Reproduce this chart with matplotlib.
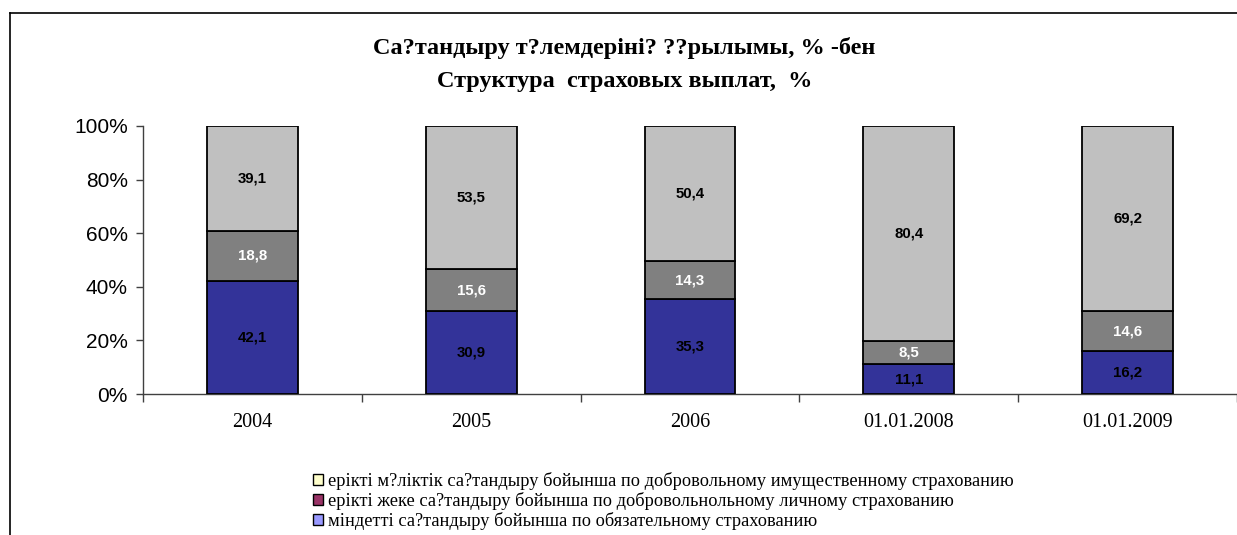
import matplotlib.pyplot as plt
from matplotlib.patches import Patch
from matplotlib.lines import Line2D

# data (percent shares)
categories = ['2004', '2005', '2006', '01.01.2008', '01.01.2009']
obligatory = [42.1, 30.9, 35.3, 11.1, 16.2]
personal = [18.8, 15.6, 14.3, 8.5, 14.6]
property_ins = [39.1, 53.5, 50.4, 80.4, 69.2]

title_lines = ['Ca?тандыру т?лемдеріні? ??рылымы, % -бен',
               'Структура  страховых выплат,  %']
legend_labels = ['ерікті м?ліктік са?тандыру бойынша по добровольному имущественному страхованию',
                 'ерікті жеке са?тандыру бойынша по добровольнольному личному страхованию',
                 'міндетті са?тандыру бойынша по обязательному страхованию']

serif = ['Liberation Serif', 'DejaVu Serif']
sans = ['Liberation Sans', 'DejaVu Sans']

fig = plt.figure(figsize=(12.37, 5.35), dpi=100)
ax = fig.add_axes([143 / 1237, 141 / 535, 1 - 143 / 1237, 268 / 535])

x = list(range(len(categories)))
w = 0.415
axis_col = '#404040'

bot1 = obligatory
bot2 = [a + b for a, b in zip(obligatory, personal)]
ax.bar(x, obligatory, w, color='#333399', edgecolor='black', linewidth=1.3, zorder=3)
ax.bar(x, personal, w, bottom=bot1, color='#808080', edgecolor='black', linewidth=1.3, zorder=3)
ax.bar(x, property_ins, w, bottom=bot2, color='#C0C0C0', edgecolor='black', linewidth=1.3, zorder=3)

def fmt(v):
    return ('%.1f' % v).replace('.', ',')

for i in x:
    ax.text(i, obligatory[i] / 2, fmt(obligatory[i]), ha='center', va='center',
            fontsize=10.8, fontweight='bold', family=sans, color='black', zorder=4)
    ax.text(i, bot1[i] + personal[i] / 2, fmt(personal[i]), ha='center', va='center',
            fontsize=10.8, fontweight='bold', family=sans, color='white', zorder=4)
    ax.text(i, bot2[i] + property_ins[i] / 2, fmt(property_ins[i]), ha='center', va='center',
            fontsize=10.8, fontweight='bold', family=sans, color='black', zorder=4)

ax.set_xlim(-0.5, len(categories) - 0.5)
ax.set_ylim(0, 100)
ax.set_yticks([0, 20, 40, 60, 80, 100])
ax.set_yticklabels(['%d%%' % v for v in [0, 20, 40, 60, 80, 100]], family=sans, fontsize=15)
ax.set_xticks(x)
ax.set_xticklabels(categories, family=serif, fontsize=14.5)
ax.tick_params(axis='x', length=0, pad=14)
ax.set_xticks([i - 0.5 for i in range(len(categories) + 1)], minor=True)
ax.tick_params(axis='x', which='minor', length=6, color=axis_col, width=1)
ax.tick_params(axis='y', length=5, color=axis_col, width=1, pad=6)

for s in ['top', 'right']:
    ax.spines[s].set_visible(False)
for s in ['left', 'bottom']:
    ax.spines[s].set_color(axis_col)
    ax.spines[s].set_linewidth(1)

fig.text(0.505, 1 - 48 / 535, title_lines[0], ha='center', va='center',
         fontsize=17.5, fontweight='bold', family=serif)
fig.text(0.505, 1 - 81 / 535, title_lines[1], ha='center', va='center',
         fontsize=17.5, fontweight='bold', family=serif)

handles = [Patch(facecolor='#FFFFCC', edgecolor='black', linewidth=1),
           Patch(facecolor='#993366', edgecolor='black', linewidth=1),
           Patch(facecolor='#9999FF', edgecolor='black', linewidth=1)]
fig.legend(handles, legend_labels, loc='upper left', bbox_to_anchor=(313 / 1237, 1 - 472 / 535),
           frameon=False, prop={'family': serif, 'size': 13.2}, handlelength=0.55,
           handleheight=0.55, handletextpad=0.25, labelspacing=0.12, borderpad=0,
           borderaxespad=0)

# chart frame (left and top edges visible)
fig.add_artist(Line2D([10 / 1237, 10 / 1237], [0, 1 - 13 / 535], transform=fig.transFigure,
                      color='black', linewidth=1.2))
fig.add_artist(Line2D([10 / 1237, 1], [1 - 13 / 535, 1 - 13 / 535], transform=fig.transFigure,
                      color='black', linewidth=1.2))

fig.savefig('out.png', dpi=100)
